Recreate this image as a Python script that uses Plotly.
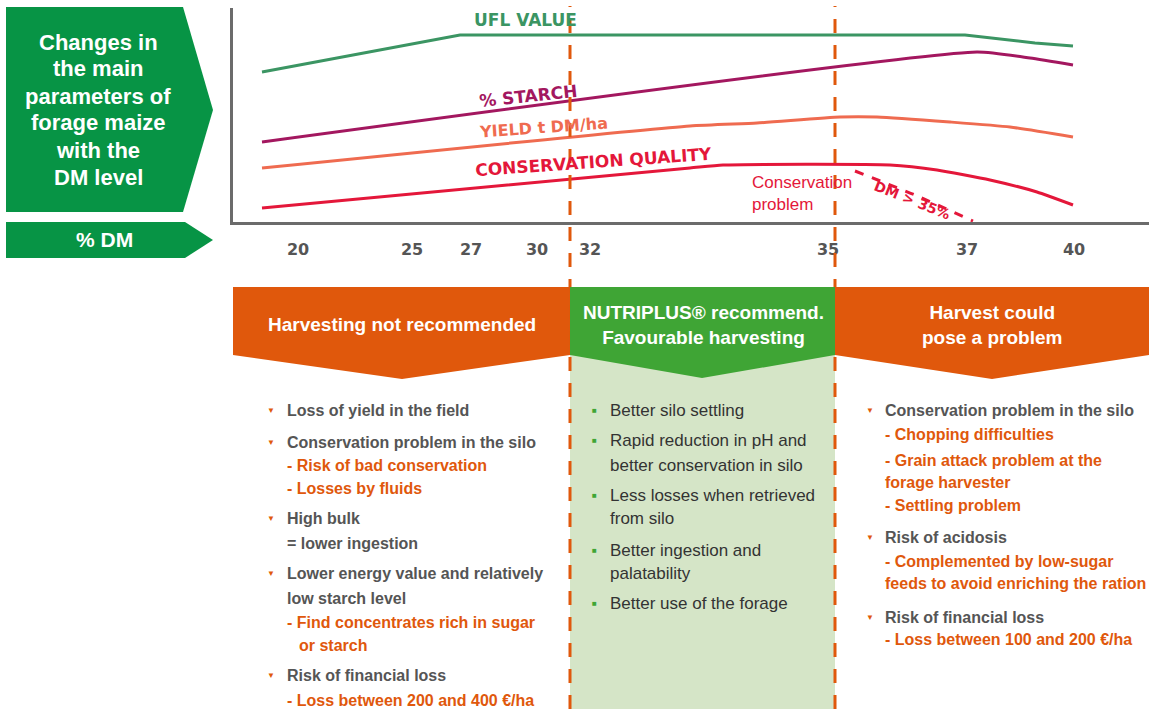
import plotly.graph_objects as go

W, H = 1149, 709

# % DM tick labels and their place along the horizontal axis (axis units)
dm_labels = ["20", "25", "27", "30", "32", "35", "37", "40"]
dm_pos = [298, 412, 471, 537, 590, 828, 967, 1074]

# curves (axis units, 0 = horizontal axis)
ufl_x = [262, 460, 965, 997, 1035, 1073]
ufl_y = [150, 187, 187, 183, 179, 176]
starch_x = [262, 977, 1030, 1073]
starch_y = [80, 170, 164, 157]
yield_x = [262, 690, 757, 840, 877, 950, 1010, 1073]
yield_y = [54, 96, 99, 105, 105, 100, 95, 85]
cons_x = [262, 690, 723, 890, 937, 990, 1037, 1073]
cons_y = [14, 54, 57, 57, 52, 42, 30, 17]
risk_x = [855, 915, 973]
risk_y = [51, 27, 1]

zone_limits = [570, 835]

title_lines = ["Changes in", "the main", "parameters of", "forage maize", "with the", "DM level"]

left_lines = [
    ("Loss of yield in the field", "main"),
    ("Conservation problem in the silo", "main"),
    ("- Risk of bad conservation", "sub"),
    ("- Losses by fluids", "sub"),
    ("High bulk", "main"),
    ("= lower ingestion", "cont"),
    ("Lower energy value and relatively", "main"),
    ("low starch level", "cont"),
    ("- Find concentrates rich in sugar", "sub"),
    ("or starch", "subcont"),
    ("Risk of financial loss", "main"),
    ("- Loss between 200 and 400 €/ha", "sub"),
]
mid_lines = [
    ("Better silo settling", "main"),
    ("Rapid reduction in pH and", "main"),
    ("better conservation in silo", "cont"),
    ("Less losses when retrieved", "main"),
    ("from silo", "cont"),
    ("Better ingestion and", "main"),
    ("palatability", "cont"),
    ("Better use of the forage", "main"),
]
right_lines = [
    ("Conservation problem in the silo", "main"),
    ("- Chopping difficulties", "sub"),
    ("- Grain attack problem at the", "sub"),
    ("forage harvester", "sub"),
    ("- Settling problem", "sub"),
    ("Risk of acidosis", "main"),
    ("- Complemented by low-sugar", "sub"),
    ("feeds to avoid enriching the ration", "sub"),
    ("Risk of financial loss", "main"),
    ("- Loss between 100 and 200 €/ha", "sub"),
]

left_rows = [410, 442, 465, 488, 518, 543, 573, 598, 622, 645, 675, 700]
mid_rows = [410, 440, 465, 495, 518, 550, 573, 603]
right_rows = [410, 434, 460, 482, 505, 537, 561, 583, 617, 639]

DARK_GREEN = "#079445"
GREEN = "#3fa535"
LIGHT_GREEN = "#d5e5c7"
ORANGE = "#e0580c"
GREY = "#555555"
FONT = "Liberation Sans, Arial, sans-serif"
WIDE = "DejaVu Sans, Liberation Sans, sans-serif"


def px(x):
    return x / W


def py(y):
    return 1 - y / H


def poly(points):
    return "M " + " L ".join(f"{px(x):.5f},{py(y):.5f}" for x, y in points) + " Z"


def note(x, y, text, size, color, xanchor="center", family=FONT, **kw):
    # text placed in page pixels
    return dict(x=px(x), y=py(y), xref="paper", yref="paper", text=text, showarrow=False,
                xanchor=xanchor, yanchor="middle", font=dict(family=family, size=size, color=color), **kw)


fig = go.Figure()

series = [
    (ufl_x, ufl_y, "#3b9563", "solid", "linear"),
    (starch_x, starch_y, "#a3175f", "solid", "spline"),
    (yield_x, yield_y, "#ef6b50", "solid", "spline"),
    (cons_x, cons_y, "#e4173a", "solid", "spline"),
    (risk_x, risk_y, "#e4173a", "dash", "spline"),
]
for xs, ys, col, dash, shape in series:
    fig.add_trace(go.Scatter(x=xs, y=ys, mode="lines",
                             line=dict(color=col, width=3, dash=dash, shape=shape, smoothing=0.5),
                             showlegend=False, hoverinfo="skip"))

# curve labels (data coords)
curve_labels = [
    ("UFL VALUE", 525, 202, "#3b9563", 0, 17),
    ("% STARCH", 528, 126, "#a3175f", -6, 17),
    ("YIELD t DM/ha", 543, 94, "#ef6b50", -4, 16),
    ("CONSERVATION QUALITY", 593, 60, "#e4173a", -4, 17),
    ("DM > 35%", 912, 22, "#e4173a", 22, 14),
]
ann = []
for txt, x, y, col, ang, sz in curve_labels:
    ann.append(dict(x=x, y=y, xref="x", yref="y", text=f"<b>{txt}</b>", showarrow=False, textangle=ang,
                    xanchor="center", yanchor="middle", font=dict(family=WIDE, size=sz, color=col)))
ann.append(dict(x=750, y=29, xref="x", yref="y", text="Conservation<br>problem", showarrow=False, align="left",
                xanchor="left", yanchor="middle", font=dict(family=FONT, size=17, color="#e4173a")))

# left title boxes
for i, t in enumerate(title_lines):
    ann.append(note(98, 42 + i * 27, f"<b>{t}</b>", 22, "white"))
ann.append(note(104, 240, "<b>% DM</b>", 21, "white"))

# banners
banner_text = [
    ("Harvesting not recommended", 402, 325),
    ("NUTRIPLUS® recommend.<br>Favourable harvesting", 703, 325),
    ("Harvest could<br>pose a problem", 992, 325),
]
for t, x, y in banner_text:
    ann.append(note(x, y, f"<b>{t}</b>", 19, "white"))


def column(lines, rows, x_bullet, x_text, bullet, bullet_col, main_col, main_bold, size):
    for (t, kind), y in zip(lines, rows):
        if kind == "main":
            ann.append(note(x_bullet, y, bullet, 8, bullet_col))
        col = ORANGE if kind in ("sub", "subcont") else main_col
        x = x_text + (12 if kind == "subcont" else 0)
        bold = main_bold or kind in ("sub", "subcont")
        ann.append(note(x, y, f"<b>{t}</b>" if bold else t, size, col, xanchor="left"))


column(left_lines, left_rows, 271, 285, "▼", ORANGE, GREY, True, 16)
column(mid_lines, mid_rows, 594, 608, "■", "#3fa535", "#333333", False, 17)
column(right_lines, right_rows, 870, 883, "▼", ORANGE, GREY, True, 16)

shapes = [
    dict(type="path", path=poly([(6, 7), (183, 7), (213, 110), (183, 212), (6, 212)]), xref="paper", yref="paper",
         fillcolor=DARK_GREEN, line=dict(width=0), layer="below"),
    dict(type="path", path=poly([(6, 222), (185, 222), (213, 240), (185, 258), (6, 258)]), xref="paper",
         yref="paper", fillcolor=DARK_GREEN, line=dict(width=0), layer="below"),
    dict(type="rect", x0=px(zone_limits[0]), x1=px(zone_limits[1]), y0=0, y1=py(350), xref="paper", yref="paper",
         fillcolor=LIGHT_GREEN, line=dict(width=0), layer="below"),
]
for xl in zone_limits:
    shapes.append(dict(type="line", x0=px(xl), x1=px(xl), y0=0, y1=py(6), xref="paper", yref="paper",
                       line=dict(color=ORANGE, width=3, dash="14px,12px")))
shapes += [
    dict(type="path", path=poly([(233, 287), (570, 287), (570, 355), (402, 379), (233, 355)]), xref="paper",
         yref="paper", fillcolor=ORANGE, line=dict(width=0)),
    dict(type="path", path=poly([(570, 287), (835, 287), (835, 355), (702, 378), (570, 355)]), xref="paper",
         yref="paper", fillcolor=GREEN, line=dict(width=0)),
    dict(type="path", path=poly([(835, 287), (1149, 287), (1149, 355), (992, 379), (835, 355)]), xref="paper",
         yref="paper", fillcolor=ORANGE, line=dict(width=0)),
]

fig.update_layout(
    width=W, height=H,
    margin=dict(l=0, r=0, t=0, b=0),
    paper_bgcolor="white", plot_bgcolor="rgba(0,0,0,0)",
    xaxis=dict(domain=[233 / W, 1], range=[233, 1149], tickvals=dm_pos, ticktext=dm_labels, showline=True,
               linecolor="#6b6b6b", linewidth=3, ticks="", showgrid=False, zeroline=False, ticklabelstandoff=11,
               tickfont=dict(family=WIDE, size=16, color=GREY, weight="bold"), fixedrange=True),
    yaxis=dict(domain=[(H - 222) / H, (H - 8) / H], range=[0, 214], showline=True, linecolor="#6b6b6b",
               linewidth=3, showticklabels=False, ticks="", showgrid=False, zeroline=False, fixedrange=True),
    shapes=shapes,
    annotations=ann,
)

# page body margin off so the figure sits at the window's top-left corner
fig.write_html("out.html", config={"displayModeBar": False},
               post_script="document.body.style.margin='0';")
